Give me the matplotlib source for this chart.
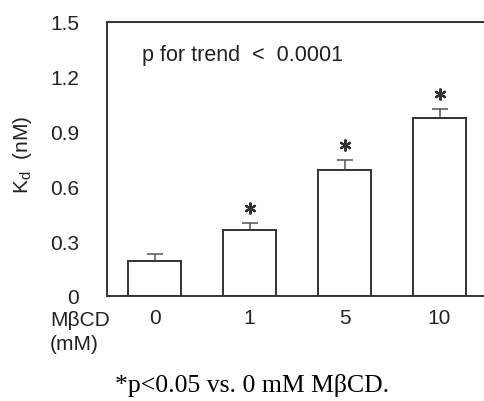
import matplotlib
matplotlib.use("Agg")
import matplotlib.pyplot as plt
import numpy as np

categories = ["0", "1", "5", "10"]
values = [0.19, 0.36, 0.69, 0.975]
errors = [0.04, 0.04, 0.055, 0.05]
significant = [False, True, True, True]
yticks = [0, 0.3, 0.6, 0.9, 1.2, 1.5]
ytick_labels = ["0", "0.3", "0.6", "0.9", "1.2", "1.5"]

plt.rcParams['font.family'] = ['Liberation Sans', 'DejaVu Sans']

fig = plt.figure(figsize=(4.84, 4.02), dpi=100)
ax = fig.add_axes([107/484, 1-297/402, 380/484, 274/402])

x = np.arange(len(categories))
ec = "#333333"
ax.bar(x, values, width=0.56, color="white", edgecolor=ec, linewidth=1.4, zorder=2)
ax.errorbar(x, values, yerr=[np.zeros(len(errors)), errors], fmt="none",
            ecolor="#555555", elinewidth=1.1, capsize=5.5, capthick=1.1, zorder=1)
sx = [xi for xi, s in zip(x, significant) if s]
sy = [v + e + 0.08 for v, e, s in zip(values, errors, significant) if s]
ax.plot(sx, sy, linestyle="none", marker=(6, 2, 0), markersize=8.5,
        markeredgewidth=1.6, color="#333333", clip_on=False)

ax.set_xlim(-0.5, 3.5)
ax.set_ylim(0, 1.5)
ax.set_yticks(yticks)
ax.set_yticklabels(ytick_labels)
ax.set_xticks(x)
ax.set_xticklabels(categories)
ax.tick_params(axis="both", length=0, labelsize=15, colors="#222222")
ax.tick_params(axis="y", pad=20)
ax.tick_params(axis="x", pad=9)
for sp in ax.spines.values():
    sp.set_color(ec)
    sp.set_linewidth(1.4)

fig.text(142/484, 1-55/402, "p for trend  <  0.0001",
         fontsize=15.5, color="#222222", va="center", ha="left")

fig.text(22/484, 1-155/402, "K$_\\mathregular{d}$  (nM)", rotation=90,
         ha="center", va="center", fontsize=15, color="#222222")
fig.text(50/484, 1-320/402, "M\u03b2CD", ha="left", va="center", fontsize=15,
         color="#222222")
fig.text(50/484, 1-345/402, "(mM)", ha="left", va="center", fontsize=15,
         color="#222222")

fig.text(252/484, 1-386/402, "*p<0.05 vs. 0 mM M\u03b2CD.", ha="center",
         va="center", fontsize=18.5, family=["Liberation Serif", "DejaVu Serif"],
         color="black")

fig.savefig("out.png", dpi=100)
